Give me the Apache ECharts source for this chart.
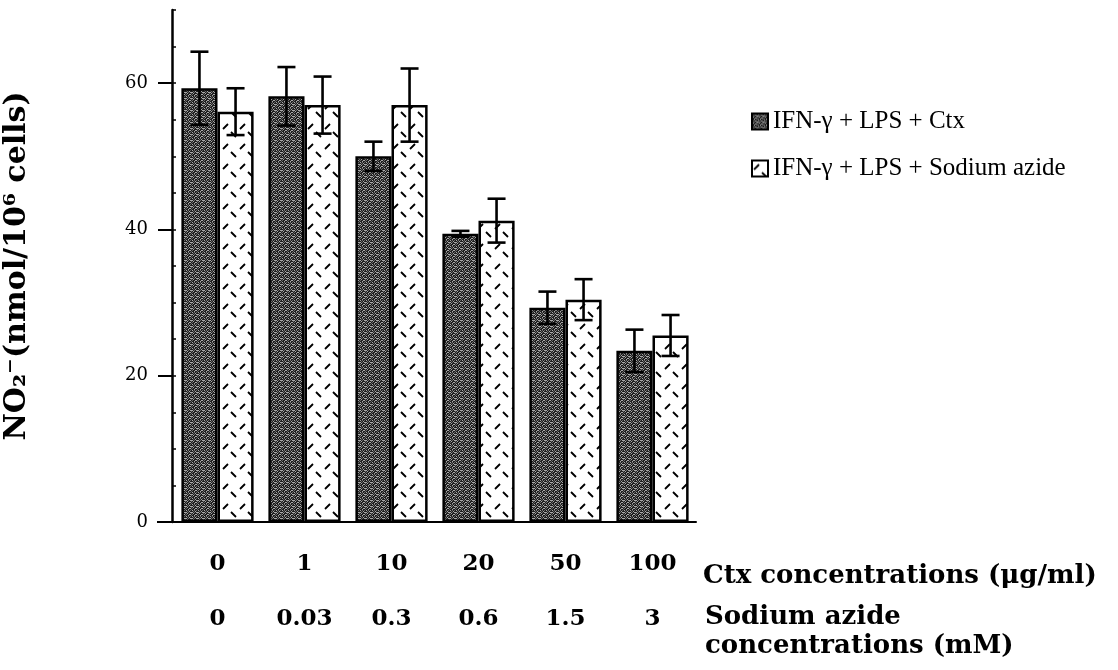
<!DOCTYPE html>
<html>
<head>
<meta charset="utf-8">
<script src="https://cdn.jsdelivr.net/npm/echarts@6/dist/echarts.min.js"></script>
<style>
html,body{margin:0;padding:0;background:#fff;}
#chart{width:1118px;height:670px;}
</style>
</head>
<body>
<div id="chart"></div>
<script>
// ---- data ----
const categories = ['0', '1', '10', '20', '50', '100'];
const azideLabels = ['0', '0.03', '0.3', '0.6', '1.5', '3'];
const ctxValues = [59.3, 58.2, 50.0, 39.4, 29.3, 23.4];
const ctxErrors = [5.0, 4.0, 2.0, 0.4, 2.2, 2.9];
const azideValues = [56.1, 57.0, 57.0, 41.2, 30.4, 25.5];
const azideErrors = [3.2, 3.9, 5.0, 3.0, 2.8, 2.8];
const yTicks = [0, 20, 40, 60];
const seriesNames = ['IFN-\u03b3 + LPS + Ctx', 'IFN-\u03b3 + LPS + Sodium azide'];

// ---- patterns ----
function darkPattern() {
  const c = document.createElement('canvas');
  c.width = 6; c.height = 6;
  const g = c.getContext('2d');
  g.fillStyle = '#1e1e1e';
  g.fillRect(0, 0, 6, 6);
  g.fillStyle = '#a8a8a8';
  [[0,0],[3,1],[1,3],[4,4],[2,5],[5,2],[0,2],[3,4],[4,2]].forEach(p => g.fillRect(p[0], p[1], 1, 1));
  g.fillStyle = '#666666';
  [[2,2],[5,5],[0,4],[4,0],[1,1],[5,3],[2,0]].forEach(p => g.fillRect(p[0], p[1], 1, 1));
  return c;
}
function lightPattern() {
  const c = document.createElement('canvas');
  c.width = 17; c.height = 20;
  const g = c.getContext('2d');
  g.fillStyle = '#ffffff';
  g.fillRect(0, 0, 17, 20);
  g.strokeStyle = '#000';
  g.lineWidth = 1.8;
  g.beginPath();
  g.moveTo(2, 9); g.lineTo(7, 4);
  g.moveTo(10, 12); g.lineTo(15, 17);
  g.stroke();
  return c;
}
const darkFill = { image: darkPattern(), repeat: 'repeat' };
const lightFill = { image: lightPattern(), repeat: 'repeat' };

const GAP = 0.17;
function makeErr(values, errs, side) {
  return values.map((v, i) => [i, v, errs[i], side]);
}
function renderErr(params, api) {
  const idx = api.value(0), v = api.value(1), e = api.value(2), side = api.value(3);
  const band = api.size([1, 0])[0];
  const bw = band * (1 - GAP) / 2;
  const c = api.coord([idx, v]);
  const cx = c[0] + (side === 0 ? -bw / 2 : bw / 2);
  const top = api.coord([idx, v + e])[1];
  const bot = api.coord([idx, v - e])[1];
  const cap = 9;
  const st = { stroke: '#000', lineWidth: 2.6 };
  return {
    type: 'group',
    children: [
      { type: 'line', shape: { x1: cx, y1: top, x2: cx, y2: bot }, style: st },
      { type: 'line', shape: { x1: cx - cap, y1: top, x2: cx + cap, y2: top }, style: st },
      { type: 'line', shape: { x1: cx - cap, y1: bot, x2: cx + cap, y2: bot }, style: st }
    ]
  };
}

const serifBold = { fontFamily: 'DejaVu Serif', fontWeight: 'bold', color: '#000' };
const gridBox = { left: 174, top: 10, width: 522, height: 512, outerBoundsMode: 'none' };

const chart = echarts.init(document.getElementById('chart'), null, { renderer: 'canvas' });
chart.setOption({
  backgroundColor: '#fff',
  animation: false,
  grid: [Object.assign({}, gridBox), Object.assign({}, gridBox)],
  legend: {
    data: seriesNames,
    orient: 'vertical',
    left: 746,
    top: 104,
    itemWidth: 16,
    itemHeight: 16,
    itemGap: 22,
    icon: 'rect',
    textStyle: { fontFamily: 'Liberation Serif', fontSize: 25, color: '#000' }
  },
  xAxis: [
    {
      type: 'category', gridIndex: 0, data: categories,
      axisLine: { lineStyle: { color: '#000', width: 2 } },
      axisTick: { alignWithLabel: true, length: 12, lineStyle: { color: '#000', width: 2 } },
      axisLabel: Object.assign({ margin: 31, fontSize: 23 }, serifBold),
      name: 'Ctx concentrations (\u03bcg/ml)',
      nameLocation: 'end', nameGap: 7,
      nameTextStyle: Object.assign({ fontSize: 26, align: 'left', verticalAlign: 'top', padding: [41, 0, 0, 0] }, serifBold)
    },
    {
      type: 'category', gridIndex: 1, data: azideLabels,
      axisLine: { show: false },
      axisTick: { show: false },
      axisLabel: Object.assign({ margin: 86, fontSize: 23 }, serifBold),
      name: 'Sodium azide\nconcentrations (mM)',
      nameLocation: 'end', nameGap: 9,
      nameTextStyle: Object.assign({ fontSize: 26, lineHeight: 29, align: 'left', verticalAlign: 'top', padding: [81, 0, 0, 0] }, serifBold)
    }
  ],
  yAxis: [
    {
      type: 'value', gridIndex: 0, min: 0, max: 70, interval: 20, offset: 2,
      axisLine: { show: true, lineStyle: { color: '#000', width: 2.5 } },
      axisTick: { show: true, length: 14, customValues: yTicks, lineStyle: { color: '#000', width: 2 } },
      axisLabel: { customValues: yTicks, margin: 24, fontFamily: 'DejaVu Serif', fontSize: 18, color: '#000' },
      splitLine: { show: false },
      name: 'NO\u2082\u207b(nmol/10\u2076 cells)',
      nameLocation: 'middle', nameGap: 140,
      nameTextStyle: Object.assign({ fontSize: 30 }, serifBold)
    },
    {
      type: 'value', gridIndex: 1, min: 0, max: 70, interval: 5, offset: 2,
      axisLine: { show: false },
      axisTick: { show: true, inside: true, length: 4, lineStyle: { color: '#000', width: 1.5 } },
      axisLabel: { show: false },
      splitLine: { show: false }
    }
  ],
  graphic: [
    { type: 'line', shape: { x1: 157, y1: 522, x2: 175, y2: 522 }, style: { stroke: '#000', lineWidth: 2 }, z: 10 }
  ],
  series: [
    {
      name: seriesNames[0], type: 'bar', xAxisIndex: 0, yAxisIndex: 0,
      data: ctxValues, barGap: '0%', barCategoryGap: (GAP * 100) + '%',
      itemStyle: { color: darkFill, borderColor: '#000', borderWidth: 2.5 }
    },
    {
      name: seriesNames[1], type: 'bar', xAxisIndex: 0, yAxisIndex: 0,
      data: azideValues, barGap: '0%', barCategoryGap: (GAP * 100) + '%',
      itemStyle: { color: lightFill, borderColor: '#000', borderWidth: 2.5 }
    },
    {
      name: 'ctxErr', type: 'custom', xAxisIndex: 0, yAxisIndex: 0, z: 5,
      renderItem: renderErr, encode: { x: 0, y: 1 },
      data: makeErr(ctxValues, ctxErrors, 0)
    },
    {
      name: 'azideErr', type: 'custom', xAxisIndex: 0, yAxisIndex: 0, z: 5,
      renderItem: renderErr, encode: { x: 0, y: 1 },
      data: makeErr(azideValues, azideErrors, 1)
    }
  ]
});
</script>
</body>
</html>
